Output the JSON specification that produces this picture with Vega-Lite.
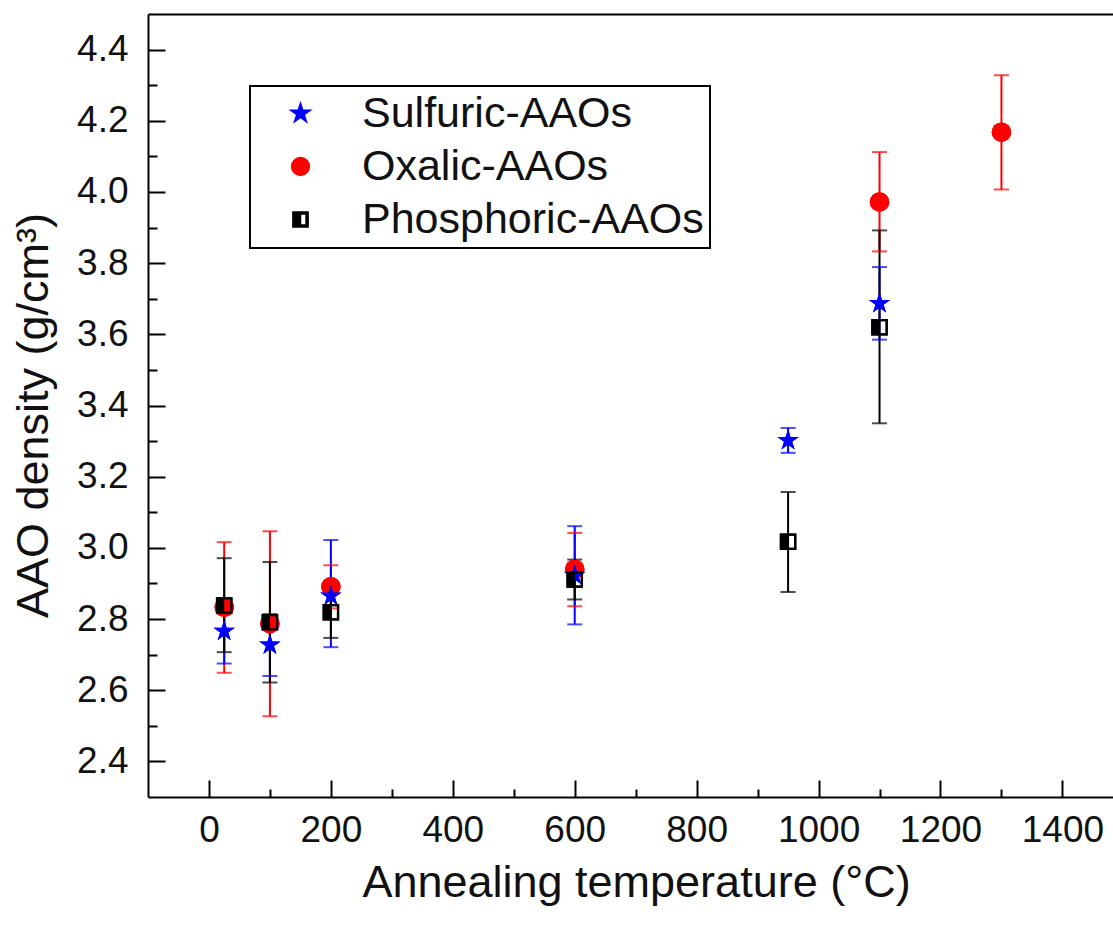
{
  "$schema": "https://vega.github.io/schema/vega-lite/v6.json",
  "width": 965,
  "height": 783,
  "autosize": {"type": "none"},
  "padding": {"left": 148, "top": 14, "right": 0, "bottom": 134},
  "background": "white",
  "config": {
    "view": {"stroke": null},
    "font": "Liberation Sans",
    "legend": {"strokeWidth": 2},
    "axis": {
      "domainColor": "#000000",
      "domainWidth": 2,
      "tickColor": "#000000",
      "tickWidth": 2,
      "labelColor": "#111111",
      "titleColor": "#111111",
      "labelFont": "Liberation Sans",
      "titleFont": "Liberation Sans",
      "labelFontSize": 37,
      "titleFontSize": 45,
      "titleFontWeight": "normal",
      "grid": false
    }
  },
  "data": {
    "values": [
      {"series": "Oxalic-AAOs", "T": 25, "v": 2.833, "lo": 2.649, "hi": 3.016},
      {"series": "Oxalic-AAOs", "T": 100, "v": 2.787, "lo": 2.527, "hi": 3.047},
      {"series": "Oxalic-AAOs", "T": 200, "v": 2.891, "lo": 2.83, "hi": 2.951},
      {"series": "Oxalic-AAOs", "T": 600, "v": 2.94, "lo": 2.836, "hi": 3.042},
      {"series": "Oxalic-AAOs", "T": 1100, "v": 3.972, "lo": 3.833, "hi": 4.112},
      {"series": "Oxalic-AAOs", "T": 1300, "v": 4.168, "lo": 4.007, "hi": 4.328},
      {"series": "Sulfuric-AAOs", "T": 25, "v": 2.766, "lo": 2.675, "hi": 2.857},
      {"series": "Sulfuric-AAOs", "T": 100, "v": 2.727, "lo": 2.64, "hi": 2.814},
      {"series": "Sulfuric-AAOs", "T": 200, "v": 2.865, "lo": 2.721, "hi": 3.022},
      {"series": "Sulfuric-AAOs", "T": 600, "v": 2.923, "lo": 2.785, "hi": 3.061},
      {"series": "Sulfuric-AAOs", "T": 950, "v": 3.302, "lo": 3.267, "hi": 3.337},
      {"series": "Sulfuric-AAOs", "T": 1100, "v": 3.687, "lo": 3.585, "hi": 3.789},
      {"series": "Phosphoric-AAOs", "T": 25, "v": 2.838, "lo": 2.707, "hi": 2.971},
      {"series": "Phosphoric-AAOs", "T": 100, "v": 2.791, "lo": 2.622, "hi": 2.96},
      {"series": "Phosphoric-AAOs", "T": 200, "v": 2.819, "lo": 2.747, "hi": 2.891},
      {"series": "Phosphoric-AAOs", "T": 600, "v": 2.911, "lo": 2.855, "hi": 2.967},
      {"series": "Phosphoric-AAOs", "T": 950, "v": 3.017, "lo": 2.876, "hi": 3.157},
      {"series": "Phosphoric-AAOs", "T": 1100, "v": 3.62, "lo": 3.35, "hi": 3.892}
    ]
  },
  "resolve": {"axis": {"x": "independent", "y": "independent"}},
  "layer": [
    {
      "mark": {"type": "point", "filled": true, "size": 380, "opacity": 1, "strokeWidth": 0},
      "encoding": {
        "x": {
          "field": "T", "type": "quantitative",
          "scale": {"domain": [-100, 1483], "nice": false, "zero": false},
          "axis": {
            "orient": "bottom",
            "values": [0, 200, 400, 600, 800, 1000, 1200, 1400],
            "format": "d",
            "tickSize": -17,
            "labelPadding": 32,
            "title": "Annealing temperature (°C)",
            "titleBaseline": "alphabetic",
            "titleY": 99,
            "titleX": 488,
            "titleAnchor": "middle"
          }
        },
        "y": {
          "field": "v", "type": "quantitative",
          "scale": {"domain": [2.3, 4.5], "nice": false, "zero": false},
          "axis": {
            "orient": "left",
            "values": [2.4, 2.6, 2.8, 3.0, 3.2, 3.4, 3.6, 3.8, 4.0, 4.2, 4.4],
            "format": ".1f",
            "tickSize": -17,
            "labelPadding": 37,
            "title": "AAO density (g/cm³)",
            "titleAngle": -90,
            "titleBaseline": "alphabetic",
            "titleAlign": "center",
            "titleX": -101,
            "titleY": 401
          }
        },
        "color": {
          "field": "series", "type": "nominal",
          "scale": {"domain": ["Sulfuric-AAOs", "Oxalic-AAOs", "Phosphoric-AAOs"], "range": ["#0000ff", "#ff0000", "#000000"]},
          "legend": {
            "title": null,
            "orient": "none",
            "legendX": 102,
            "legendY": 72,
            "strokeColor": "#000000",
            "fillColor": "white",
            "padding": 6,
            "labelFont": "Liberation Sans",
            "labelFontSize": 43,
            "labelColor": "#111111",
            "labelLimit": 600,
            "symbolSize": 320,
            "symbolOffset": 23,
            "labelOffset": 40,
            "rowPadding": 9
          }
        },
        "shape": {
          "field": "series", "type": "nominal",
          "scale": {
            "domain": ["Sulfuric-AAOs", "Oxalic-AAOs", "Phosphoric-AAOs"],
            "range": [
              "M0,-1.15L0.258,-0.355L1.094,-0.355L0.417,0.136L0.676,0.93L0,0.439L-0.676,0.93L-0.417,0.136L-1.094,-0.355L-0.258,-0.355Z",
              "circle",
              "M-0.85,-0.85L0.85,-0.85L0.85,0.85L-0.85,0.85Z M0,-0.62L0,0.62L0.62,0.62L0.62,-0.62Z"
            ]
          }
        }
      }
    },
    {
      "mark": {"type": "rule", "strokeWidth": 2},
      "encoding": {
        "x": {"field": "T", "type": "quantitative", "axis": null},
        "y": {"field": "lo", "type": "quantitative", "axis": null},
        "y2": {"field": "hi"},
        "color": {"field": "series", "type": "nominal", "legend": null}
      }
    },
    {
      "mark": {"type": "tick", "orient": "horizontal", "size": 15, "thickness": 2},
      "encoding": {
        "x": {
          "field": "T", "type": "quantitative",
          "axis": {
            "orient": "bottom",
            "values": [100, 300, 500, 700, 900, 1100, 1300],
            "tickSize": -8,
            "labels": false,
            "title": null,
            "domain": false
          }
        },
        "y": {
          "field": "lo", "type": "quantitative",
          "axis": {
            "orient": "left",
            "values": [2.5, 2.7, 2.9, 3.1, 3.3, 3.5, 3.7, 3.9, 4.1, 4.3],
            "tickSize": -9,
            "labels": false,
            "title": null,
            "domain": false
          }
        },
        "color": {"field": "series", "type": "nominal", "legend": null}
      }
    },
    {
      "mark": {"type": "tick", "orient": "horizontal", "size": 15, "thickness": 2},
      "encoding": {
        "x": {
          "field": "T", "type": "quantitative",
          "axis": {"orient": "top", "ticks": false, "labels": false, "title": null, "domain": true}
        },
        "y": {"field": "hi", "type": "quantitative", "axis": null},
        "color": {"field": "series", "type": "nominal", "legend": null}
      }
    },
    {
      "mark": {"type": "point", "filled": true, "size": 380, "opacity": 1, "strokeWidth": 0},
      "encoding": {
        "x": {"field": "T", "type": "quantitative", "axis": null},
        "y": {"field": "v", "type": "quantitative", "axis": null},
        "color": {"field": "series", "type": "nominal", "legend": null},
        "shape": {"field": "series", "type": "nominal", "legend": null}
      }
    }
  ]
}
